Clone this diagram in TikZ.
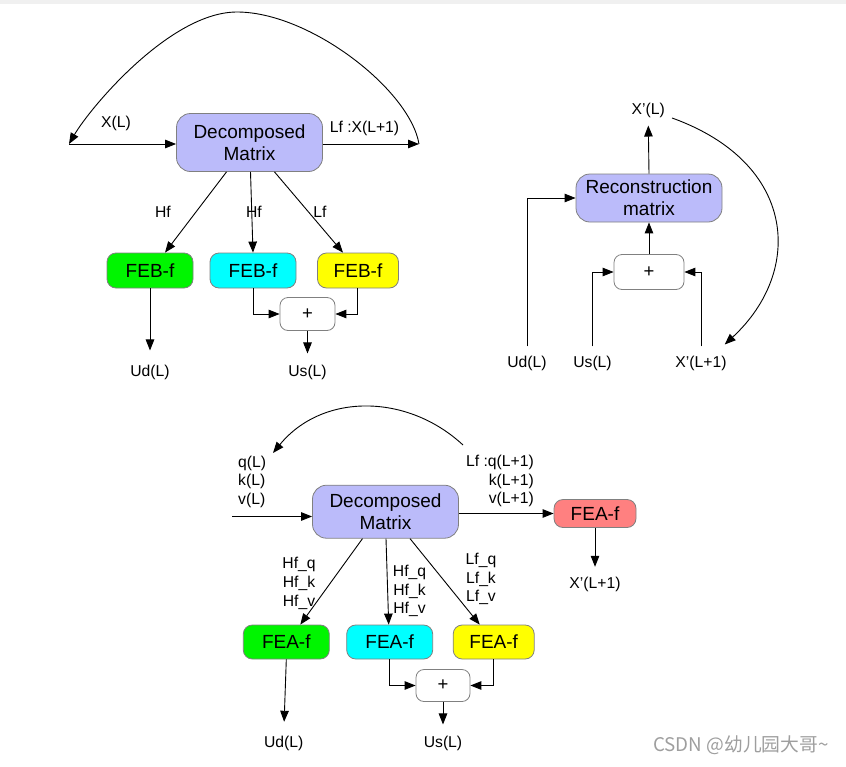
\documentclass[tikz,border=0pt]{standalone}
\usepackage{fontspec}
\setmainfont{Liberation Sans}
\newfontfamily\cjk{Noto Sans CJK SC}
\usetikzlibrary{arrows.meta}
\definecolor{lavender}{RGB}{187,187,250}
\definecolor{febgreen}{RGB}{0,245,0}
\definecolor{febcyan}{RGB}{0,255,255}
\definecolor{febyellow}{RGB}{255,255,0}
\definecolor{feared}{RGB}{255,128,128}
\definecolor{boxline}{RGB}{128,128,128}
\tikzset{
    matrixbox/.style={
           rectangle,
           rounded corners=14pt,
           draw=boxline, thick,
           fill=lavender,
           minimum width=146pt,
           inner sep=2pt,
           align=center,
           font=\fontsize{19}{21.7}\selectfont,
           },
    febox/.style={
           rectangle,
           rounded corners=9pt,
           draw=boxline, thick,
           minimum width=86pt,
           minimum height=35pt,
           inner sep=2pt,
           font=\fontsize{19}{21.7}\selectfont,
           },
    sumbox/.style={
           rectangle,
           rounded corners=8pt,
           draw=boxline, thick,
           fill=white,
           minimum width=55pt,
           minimum height=33pt,
           font=\fontsize{18.5}{21}\selectfont,
           },
    lbl/.style={
           inner sep=2pt,
           align=center,
           font=\fontsize{15.7}{18.7}\selectfont,
           },
    flow/.style={-{Triangle[length=11pt,width=8.5pt]}, line width=0.9pt},
}

\begin{document}
\begin{tikzpicture}[x=1pt,y=-1pt]
    \useasboundingbox (0,0) rectangle (846,766);
    \fill[black!6] (0,0) rectangle (846,4);

    % Top left: decomposition of X(L)
    \node[matrixbox,        % layout (defined above)
    minimum height=58pt]    % taller than the others
    (dm1) at (249.5,142.5)
    {Decomposed\\Matrix};

    \node[febox, fill=febgreen] (feb1) at (150,270.5) {FEB-f};
    \node[febox, fill=febcyan,
    right of=feb1,
    node distance=103pt] (feb2) {FEB-f};
    \node[febox, fill=febyellow,
    minimum width=81pt,
    right of=feb2,
    node distance=105pt] (feb3) {FEB-f};

    \node[sumbox] (sum1) at (307.5,314) {+};

    \coordinate (in1) at (69,144);
    \coordinate (out1) at (419,144);
    \coordinate (top1) at (237,12);

    \node[lbl] (xl1) at (116,123) {X(L)};
    \node[lbl] (lfx1) at (364.5,128) {Lf :X(L+1)};
    \node[lbl] (hf1) at (163,212) {Hf};
    \node[lbl] (hf2) at (254,212) {Hf};
    \node[lbl] (lf1) at (320,212) {Lf};
    \node[lbl] (ud1) at (150,372) {Ud(L)};
    \node[lbl] (us1) at (307.5,372) {Us(L)};

    % draw the paths
    \path
        (in1) edge[flow] (in1 -| dm1.west)
        (dm1.east |- out1) edge[flow] (out1)
        ([xshift=-23pt]dm1.south) edge[flow] ([xshift=15pt]feb1.north)
        ([xshift=1pt]dm1.south) edge[flow] (feb2.north)
        ([xshift=25pt]dm1.south) edge[flow] ([xshift=-15pt]feb3.north)
        (feb1.south) edge[flow, shorten >=12pt] (ud1.north)
        (sum1.south) edge[flow, shorten >=9pt] (us1.north)
        ;
    \draw[flow] (feb2.south) |- (sum1.west);
    \draw[flow] ([xshift=-1pt]feb3.south) |- (sum1.east);
    \draw[flow] (out1) .. controls (410,90) and (310,12) .. (top1)
        .. controls (170,12) and (90,108) .. (in1);

    % Top right: reconstruction
    \node[matrixbox,
    minimum height=48pt]
    (rec) at (649,198)
    {Reconstruction\\matrix};

    \node[sumbox,
    minimum width=70pt,
    minimum height=35pt] (sum2) at (649,272) {+};

    \node[lbl] (xl2) at (648.3,110) {X’(L)};
    \node[lbl] (ud2) at (527,363) {Ud(L)};
    \node[lbl] (us2) at (592.5,363) {Us(L)};
    \node[lbl] (xn2) at (701,363) {X’(L+1)};

    \draw[flow] (rec.north) -- ([yshift=-6pt]xl2.south);
    \draw[flow] (sum2.north) -- (rec.south);
    \draw[flow, shorten <=7pt] (ud2.north) |- (rec.west);
    \draw[flow, shorten <=7pt] (us2.north) |- (sum2.west);
    \draw[flow, shorten <=7pt] (xn2.north) |- (sum2.east);
    \draw[flow] ([xshift=5pt,yshift=-8pt]xl2.east)
        .. controls (797,163) and (804,271) ..
        ([xshift=-4pt,yshift=9pt]xn2.north east);

    % Bottom: attention features
    \node[matrixbox,
    minimum height=53pt]
    (dm2) at (385.5,511.7)
    {Decomposed\\Matrix};

    \node[febox, fill=feared,
    minimum width=82pt,
    minimum height=28pt] (fea0) at (595,513.5) {FEA-f};

    \node[febox, fill=febgreen, minimum height=34pt] (fea1) at (286.3,642) {FEA-f};
    \node[febox, fill=febcyan, minimum height=34pt,
    right of=fea1,
    node distance=103.4pt] (fea2) {FEA-f};
    \node[febox, fill=febyellow, minimum height=34pt,
    minimum width=81pt,
    right of=fea2,
    node distance=104pt] (fea3) {FEA-f};

    \node[sumbox,
    minimum width=54pt,
    minimum height=32pt] (sum3) at (443,685.5) {+};

    \coordinate (in3) at (232,516.5);
    \coordinate (back1) at (463,445);
    \coordinate (back2) at (273,453);

    \node[lbl, align=left, anchor=west] (qkv1) at (236,481.7) {q(L)\\k(L)\\v(L)};
    \node[lbl, align=right, anchor=east] (qkv2) at (536,481.2) {Lf :q(L+1)\\k(L+1)\\v(L+1)};
    \node[lbl] (hfq1) at (299,583.3) {Hf\_q\\Hf\_k\\Hf\_v};
    \node[lbl] (hfq2) at (409.5,591) {Hf\_q\\Hf\_k\\Hf\_v};
    \node[lbl] (lfq1) at (481,579) {Lf\_q\\Lf\_k\\Lf\_v};
    \node[lbl] (xn3) at (595,584.3) {X’(L+1)};
    \node[lbl] (ud3) at (283.7,743.3) {Ud(L)};
    \node[lbl] (us3) at (443,743) {Us(L)};

    \path
        (in3) edge[flow] (in3 -| dm2.west)
        (dm2.east |- fea0.west) edge[flow] (fea0.west)
        (fea0.south) edge[flow, shorten >=8pt] (xn3.north)
        ([xshift=-23pt]dm2.south) edge[flow] ([xshift=14pt]fea1.north)
        ([xshift=0.5pt]dm2.south) edge[flow] ([xshift=-1pt]fea2.north)
        ([xshift=24.5pt]dm2.south) edge[flow] ([xshift=-14pt]fea3.north)
        (fea1.south) edge[flow, shorten >=12pt] (ud3.north)
        (sum3.south) edge[flow, shorten >=9pt] (us3.north)
        ;
    \draw[flow] (fea2.south) |- (sum3.west);
    \draw[flow] ([xshift=-0.5pt]fea3.south) |- (sum3.east);
    \draw[flow] (back1) .. controls (407,393) and (322,393) .. (back2);

    % watermark
    \node[text=black!38, inner sep=0pt,
    font=\cjk\fontsize{18.8}{20}\selectfont] (mark) at (741,745) {CSDN @幼儿园大哥\textasciitilde};
\end{tikzpicture}
\end{document}
